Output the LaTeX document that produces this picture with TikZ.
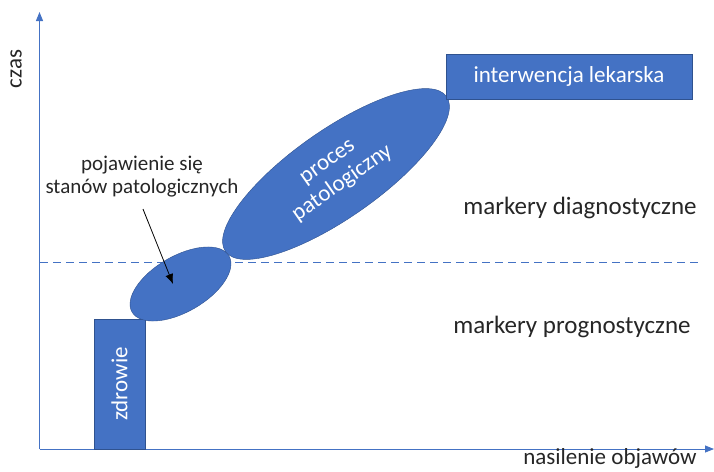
\documentclass[tikz,border=0pt]{standalone}
\usepackage{fontspec}
\setmainfont{Carlito}
\usetikzlibrary{shapes,arrows.meta,positioning}
\definecolor{officeblue}{RGB}{68,114,196}
\definecolor{officeline}{RGB}{47,82,143}

\begin{document}
\begin{tikzpicture}[x=1pt, y=-1pt,
    box/.style={rectangle, draw=officeline, fill=officeblue, text=white, inner sep=0pt, font=\fontsize{23}{25}\selectfont},
    blob/.style={ellipse, draw=officeline, fill=officeblue, text=white, inner sep=0pt, align=center, font=\fontsize{23}{26}\selectfont},
    axis/.style={officeblue, line width=0.8pt, -{Triangle[length=9pt,width=7pt]}},
    note/.style={text=black!85, align=center},
    arrow/.style={line width=0.8pt, -{Latex[length=10pt,width=8pt]}}]

    \useasboundingbox (0,0) rectangle (714,471);

    \coordinate (origin) at (39.5,449);
    \coordinate (ytop) at (39.5,12);
    \coordinate (xend) at (714,449);
    \coordinate (dashL) at (40,262);
    \coordinate (dashR) at (702,262);
    \coordinate (tip) at (173,284);

    \draw[axis] (origin) -- (ytop);
    \draw[axis] (origin) -- (xend);
    \draw[officeblue, line width=0.8pt, dash pattern=on 8pt off 5pt] (dashL) -- (dashR);

    \node[box, minimum width=51pt, minimum height=130pt] (health) at (119.5,384) {\rotatebox{90}{zdrowie}};
    \node[blob, minimum width=112pt, minimum height=56pt, rotate=30] (onset) at (180.5,284) {};
    \node[blob, minimum width=270pt, minimum height=88pt, rotate=35] (process) at (336,174) {proces\\patologiczny};
    \node[box, minimum width=246pt, minimum height=45pt] (doctor) at (569,76.5) {interwencja lekarska};

    \node[note, rotate=90, font=\fontsize{23}{25}\selectfont] (time) at (16,69) {czas};
    \node[note, font=\fontsize{23}{25}\selectfont] (severity) at (610,458) {nasilenie objawów};
    \node[note, font=\fontsize{25}{27}\selectfont] (diag) at (580,208) {markery diagnostyczne};
    \node[note, font=\fontsize{25}{27}\selectfont] (prog) at (572,327) {markery prognostyczne};
    \node[note, font=\fontsize{21}{23}\selectfont] (appear) at (142,177) {pojawienie się\\stanów patologicznych};

    \draw[arrow] (appear.south) ++(1,8) -- (tip);
\end{tikzpicture}
\end{document}
